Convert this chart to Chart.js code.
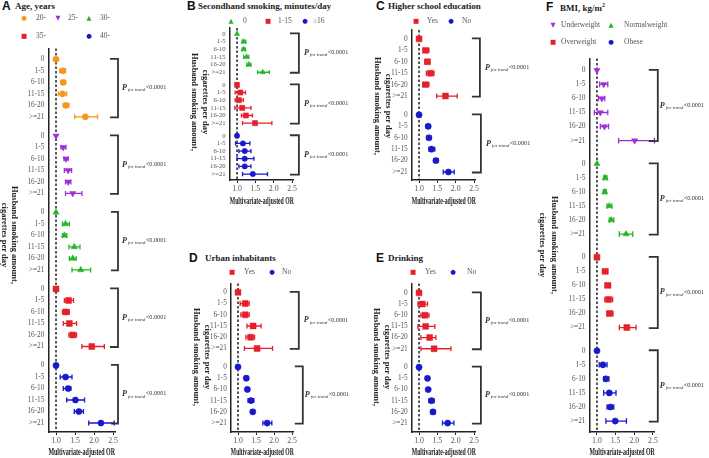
<!DOCTYPE html>
<html lang="en">
<head>
<meta charset="UTF-8">
<title>Husband smoking amount and multivariate-adjusted OR</title>
<style>
  body { margin: 0; width: 709px; height: 458px; background: #fff; position: relative; overflow: hidden;
         font-family: 'Liberation Serif', 'Times New Roman', serif; }
  canvas { position: absolute; }
  .lbl { position: absolute; white-space: nowrap; line-height: 1; z-index: 2; }
  .letter { font-family: 'Liberation Sans', Arial, sans-serif; font-weight: bold; font-size: 12px; color: #111; transform: translateY(-50%); }
  .ttl { font-weight: bold; font-size: 9px; color: #222; transform: translateY(-50%); }
  .leg { font-size: 7.5px; color: #555; transform: translateY(-50%); }
  .mk { font-family: 'DejaVu Sans', sans-serif; font-size: 6.5px; transform: translate(-50%, -50%); }
  .ytl { font-weight: bold; font-size: 8.5px; color: #222; transform: translate(-50%, -50%) rotate(90deg); }
</style>
</head>
<body>
  <canvas id="cA" width="175" height="418" style="left:0;top:40px"></canvas>
  <canvas id="cB" width="179" height="189" style="left:176px;top:18px"></canvas>
  <canvas id="cC" width="174" height="189" style="left:356px;top:18px"></canvas>
  <canvas id="cD" width="179" height="183" style="left:176px;top:275px"></canvas>
  <canvas id="cE" width="174" height="183" style="left:356px;top:275px"></canvas>
  <canvas id="cF" width="178" height="408" style="left:531px;top:50px"></canvas>

  <div class="lbl letter" style="left:2px;top:6px">A</div>
  <div class="lbl ttl" style="left:15px;top:6px">Age, years</div>
  <div class="lbl letter" style="left:187px;top:6px">B</div>
  <div class="lbl ttl" style="left:198px;top:6px">Secondhand smoking, minutes/day</div>
  <div class="lbl letter" style="left:376px;top:6px">C</div>
  <div class="lbl ttl" style="left:388px;top:6px">Higher school education</div>
  <div class="lbl letter" style="left:189px;top:258px">D</div>
  <div class="lbl ttl" style="left:205px;top:258px">Urban inhabitants</div>
  <div class="lbl letter" style="left:376px;top:258px">E</div>
  <div class="lbl ttl" style="left:388px;top:258px">Drinking</div>
  <div class="lbl letter" style="left:546px;top:7px">F</div>
  <div class="lbl ttl" style="left:560px;top:7px">BMI, kg/m<sup style="font-size:6px">2</sup></div>

  <div class="lbl ytl" style="left:15px;top:235px">Husband smoking amount,</div>
  <div class="lbl ytl" style="left:5px;top:235px">cigarettes per day</div>
  <div class="lbl ytl" style="left:195px;top:102px">Husband smoking amount,</div>
  <div class="lbl ytl" style="left:206px;top:102px">cigarettes per day</div>
  <div class="lbl ytl" style="left:378px;top:106px">Husband smoking amount,</div>
  <div class="lbl ytl" style="left:389px;top:106px">cigarettes per day</div>
  <div class="lbl ytl" style="left:197px;top:357px">Husband smoking amount,</div>
  <div class="lbl ytl" style="left:208px;top:357px">cigarettes per day</div>
  <div class="lbl ytl" style="left:377px;top:357px">Husband smoking amount,</div>
  <div class="lbl ytl" style="left:388px;top:357px">cigarettes per day</div>
  <div class="lbl ytl" style="left:555px;top:245px">Husband smoking amount,</div>
  <div class="lbl ytl" style="left:543px;top:245px">cigarettes per day</div>

  <script src="https://cdn.jsdelivr.net/npm/chart.js"></script>
  <script>
    const rowLabels = ['0', '1-5', '6-10', '11-15', '16-20', '>=21'];
    const xTicks = [1.0, 1.5, 2.0, 2.5];

    // A: age, years
    const ageGroups = ['20-', '25-', '30-', '35-', '40-'];
    const ageOR = [
      [1.00, 1.18, 1.19, 1.17, 1.26, 1.77],
      [1.00, 1.19, 1.26, 1.32, 1.32, 1.44],
      [1.00, 1.25, 1.22, 1.48, 1.44, 1.65],
      [1.00, 1.33, 1.26, 1.35, 1.44, 1.94],
      [1.00, 1.25, 1.32, 1.51, 1.60, 2.18]
    ];
    const ageLow = [
      [1.00, 1.10, 1.13, 1.06, 1.19, 1.49],
      [1.00, 1.13, 1.21, 1.22, 1.25, 1.25],
      [1.00, 1.17, 1.17, 1.34, 1.35, 1.42],
      [1.00, 1.22, 1.17, 1.19, 1.34, 1.68],
      [1.00, 1.11, 1.19, 1.28, 1.48, 1.86]
    ];
    const ageHigh = [
      [1.00, 1.25, 1.25, 1.28, 1.34, 2.09],
      [1.00, 1.26, 1.32, 1.41, 1.39, 1.68],
      [1.00, 1.35, 1.28, 1.63, 1.53, 1.91],
      [1.00, 1.46, 1.35, 1.54, 1.54, 2.27],
      [1.00, 1.42, 1.39, 1.75, 1.72, 2.53]
    ];

    // B: secondhand smoking, minutes/day
    const shsGroups = ['0', '1-15', '≥16'];
    const shsOR = [
      [1.00, 1.18, 1.18, 1.26, 1.32, 1.70],
      [1.00, 1.09, 1.05, 1.14, 1.24, 1.49],
      [1.00, 1.16, 1.21, 1.21, 1.21, 1.43]
    ];
    const shsLow = [
      [1.00, 1.14, 1.14, 1.18, 1.27, 1.56],
      [1.00, 0.95, 0.95, 0.94, 1.12, 1.15],
      [1.00, 0.96, 1.05, 1.00, 1.05, 1.15]
    ];
    const shsHigh = [
      [1.00, 1.24, 1.23, 1.32, 1.38, 1.88],
      [1.00, 1.23, 1.17, 1.38, 1.42, 1.95],
      [1.00, 1.35, 1.38, 1.46, 1.38, 1.83]
    ];

    // C: higher school education
    const yesNo = ['Yes', 'No'];
    const eduOR = [
      [1.00, 1.18, 1.23, 1.31, 1.18, 1.72],
      [1.00, 1.25, 1.27, 1.34, 1.46, 1.80]
    ];
    const eduLow = [
      [1.00, 1.11, 1.16, 1.20, 1.10, 1.48],
      [1.00, 1.19, 1.21, 1.27, 1.40, 1.66]
    ];
    const eduHigh = [
      [1.00, 1.27, 1.29, 1.41, 1.27, 2.04],
      [1.00, 1.30, 1.32, 1.43, 1.52, 1.96]
    ];

    // D: urban inhabitants
    const urbanOR = [
      [1.00, 1.20, 1.20, 1.42, 1.35, 1.53],
      [1.00, 1.23, 1.26, 1.36, 1.41, 1.81]
    ];
    const urbanLow = [
      [1.00, 1.06, 1.08, 1.25, 1.22, 1.18],
      [1.00, 1.19, 1.21, 1.28, 1.36, 1.69]
    ];
    const urbanHigh = [
      [1.00, 1.31, 1.31, 1.64, 1.46, 1.96],
      [1.00, 1.28, 1.31, 1.44, 1.46, 1.94]
    ];

    // E: drinking
    const drinkOR = [
      [1.00, 1.09, 1.16, 1.18, 1.29, 1.41],
      [1.00, 1.23, 1.25, 1.34, 1.38, 1.78]
    ];
    const drinkLow = [
      [1.00, 0.97, 1.05, 0.97, 1.05, 1.05],
      [1.00, 1.18, 1.20, 1.27, 1.33, 1.64]
    ];
    const drinkHigh = [
      [1.00, 1.23, 1.27, 1.43, 1.46, 1.87],
      [1.00, 1.27, 1.29, 1.41, 1.44, 1.95]
    ];

    // F: BMI, kg/m2
    const bmiGroups = ['Underweight', 'Normalweight', 'Overweight', 'Obese'];
    const bmiOR = [
      [1.00, 1.18, 1.13, 1.09, 1.20, 2.01],
      [1.00, 1.22, 1.21, 1.33, 1.38, 1.78],
      [1.00, 1.22, 1.29, 1.31, 1.34, 1.80],
      [1.00, 1.16, 1.24, 1.33, 1.36, 1.49]
    ];
    const bmiLow = [
      [1.00, 1.07, 1.04, 0.93, 1.09, 1.58],
      [1.00, 1.18, 1.17, 1.27, 1.33, 1.60],
      [1.00, 1.15, 1.22, 1.21, 1.27, 1.60],
      [1.00, 1.06, 1.18, 1.18, 1.27, 1.24]
    ];
    const bmiHigh = [
      [1.00, 1.29, 1.21, 1.29, 1.31, 2.54],
      [1.00, 1.27, 1.25, 1.40, 1.45, 1.96],
      [1.00, 1.29, 1.36, 1.42, 1.43, 2.05],
      [1.00, 1.27, 1.32, 1.51, 1.45, 1.79]
    ];

    const SERIF = "'Liberation Serif', 'Times New Roman', serif";
    const STEP = 6.65; // distance between the first rows of two groups
    const ORANGE = '#f5961f', PURPLE = '#a02ed6', GREEN = '#25b525', RED = '#e5202a', BLUE = '#1818cc';
    const shapes = {
      circle: { style: 'circle', rot: 0, r: 1 },
      down: { style: 'triangle', rot: 180, r: 1.15 },
      up: { style: 'triangle', rot: 0, r: 1.15 },
      square: { style: 'rect', rot: 0, r: 1.35 }
    };
    const glyphs = { circle: '●', down: '▼', up: '▲', square: '■' };

    const forestPlugin = {
      id: 'forest',
      beforeDatasetsDraw(chart, args, opts) {
        const { ctx, chartArea, scales: { x, y } } = chart;
        const x1 = x.getPixelForValue(1);
        ctx.save();
        ctx.setLineDash([2.5, 2]);
        ctx.lineWidth = 1.4;
        ctx.strokeStyle = '#111';
        ctx.beginPath();
        ctx.moveTo(x1, chartArea.top);
        ctx.lineTo(x1, chartArea.bottom);
        ctx.stroke();
        ctx.setLineDash([]);
        chart.data.datasets.forEach(ds => {
          ctx.strokeStyle = ds.borderColor;
          ctx.lineWidth = 1.3;
          ds.data.forEach((p, i) => {
            const lo = ds.low[i], hi = ds.high[i];
            if (hi - lo < 0.001) return;
            const py = y.getPixelForValue(p.y);
            const a = x.getPixelForValue(lo), b = x.getPixelForValue(hi);
            ctx.beginPath();
            ctx.moveTo(a, py); ctx.lineTo(b, py);
            ctx.moveTo(a, py - opts.cap); ctx.lineTo(a, py + opts.cap);
            ctx.moveTo(b, py - opts.cap); ctx.lineTo(b, py + opts.cap);
            ctx.stroke();
          });
        });
        ctx.restore();
      },
      afterDraw(chart, args, opts) {
        const { ctx, chartArea, scales: { y } } = chart;
        ctx.save();
        opts.brackets.forEach((b, g) => {
          const y0 = y.getPixelForValue(g * STEP) - 0.5;
          const y1 = y.getPixelForValue(g * STEP + 5) + 0.5;
          const l = chartArea.right + b[0], v = chartArea.right + b[1];
          ctx.strokeStyle = '#333';
          ctx.lineWidth = 1.8;
          ctx.beginPath();
          ctx.moveTo(l, y0); ctx.lineTo(v, y0); ctx.lineTo(v, y1); ctx.lineTo(l, y1);
          ctx.stroke();
          const py = (y0 + y1) / 2;
          let px = chartArea.right + b[2];
          ctx.fillStyle = '#333';
          ctx.textBaseline = 'middle';
          ctx.textAlign = 'left';
          ctx.font = "italic bold 8px 'Liberation Serif'";
          ctx.fillText('P', px, py);
          px += ctx.measureText('P').width + 1;
          ctx.font = "italic 5px 'Liberation Serif'";
          ctx.fillText('for trend', px, py + 2);
          px += ctx.measureText('for trend').width + 0.5;
          ctx.font = "6.2px 'Liberation Serif'";
          ctx.fillText('<0.0001', px, py - 0.5);
        });
        ctx.restore();
      }
    };

    function makePanel(cfg) {
      const G = cfg.or.length;
      const yTickPos = [], yTickText = [];
      for (let g = 0; g < G; g++) {
        rowLabels.forEach((t, r) => { yTickPos.push(g * STEP + r); yTickText.push(t); });
      }
      const datasets = cfg.or.map((vals, g) => {
        const sh = shapes[cfg.shapes[g]];
        return {
          label: cfg.names[g],
          data: vals.map((v, r) => ({ x: v, y: g * STEP + r })),
          low: cfg.low[g],
          high: cfg.high[g],
          pointStyle: sh.style,
          rotation: sh.rot,
          pointRadius: cfg.radius * sh.r,
          backgroundColor: cfg.colors[g],
          borderColor: cfg.colors[g],
          borderWidth: 0.5,
          showLine: false
        };
      });
      new Chart(document.getElementById(cfg.id), {
        type: 'scatter',
        data: { datasets },
        options: {
          responsive: false,
          animation: false,
          events: [],
          layout: { padding: { left: 0, top: cfg.padTop, right: cfg.padRight, bottom: 0 } },
          plugins: {
            legend: { display: false },
            tooltip: { enabled: false },
            forest: { cap: cfg.cap, brackets: cfg.brackets }
          },
          scales: {
            x: {
              type: 'linear', min: 0.8, max: 2.55,
              afterBuildTicks: s => { s.ticks = xTicks.map(v => ({ value: v })); },
              afterFit: s => { s.height = cfg.xH; },
              ticks: { callback: v => v.toFixed(1), font: { family: SERIF, size: 7.8 }, color: '#555',
                       padding: 1, maxRotation: 0, autoSkip: false },
              grid: { drawOnChartArea: false, drawTicks: true, tickLength: 3, color: '#222', lineWidth: 1 },
              border: { display: true, color: '#222', width: 1.5 },
              title: { display: true, text: 'Multivariate-adjusted OR', color: '#222', padding: 0,
                       font: { family: SERIF, size: 9.5, weight: 'bold' } }
            },
            y: {
              type: 'linear', reverse: true,
              min: -cfg.yTop, max: (G - 1) * STEP + 5 + cfg.yBot,
              afterBuildTicks: s => { s.ticks = yTickPos.map(v => ({ value: v })); },
              afterFit: s => { s.width = cfg.yW; },
              ticks: { callback: (v, i) => yTickText[i], font: { family: SERIF, size: cfg.tickSize },
                       color: '#555', padding: 4, autoSkip: false },
              grid: { display: false, drawTicks: false },
              border: { display: true, color: '#222', width: 1.5 }
            }
          }
        },
        plugins: [forestPlugin]
      });
    }

    function legendItem(mx, tx, y, shape, color, text) {
      const m = document.createElement('div');
      m.className = 'lbl mk';
      m.style.left = mx + 'px';
      m.style.top = y + 'px';
      m.style.color = color;
      m.textContent = glyphs[shape];
      document.body.appendChild(m);
      const t = document.createElement('div');
      t.className = 'lbl leg';
      t.style.left = tx + 'px';
      t.style.top = y + 'px';
      t.textContent = text;
      document.body.appendChild(t);
    }

    makePanel({
      id: 'cA', or: ageOR, low: ageLow, high: ageHigh, names: ageGroups,
      colors: [ORANGE, PURPLE, GREEN, RED, BLUE], shapes: ['circle', 'down', 'up', 'square', 'circle'],
      radius: 3.1, cap: 2.5, tickSize: 7.3, yW: 48.4, xH: 26, padTop: 5, padRight: 60,
      yTop: 0.95, yBot: 0.78, brackets: [[-5, 3, 7], [-5, 3, 7], [-4, 3, 7], [-5, 3, 7], [-4, 3, 7]]
    });
    makePanel({
      id: 'cB', or: shsOR, low: shsLow, high: shsHigh, names: shsGroups,
      colors: [GREEN, RED, BLUE], shapes: ['up', 'square', 'circle'],
      radius: 2.7, cap: 2.1, tickSize: 6.7, yW: 53.7, xH: 27, padTop: 10, padRight: 61.1,
      yTop: 0.78, yBot: 0.78, brackets: [[-4, 5, 10], [-4, 5, 10], [-4, 5, 10]]
    });
    makePanel({
      id: 'cC', or: eduOR, low: eduLow, high: eduHigh, names: yesNo,
      colors: [RED, BLUE], shapes: ['square', 'circle'],
      radius: 3.1, cap: 2.5, tickSize: 7.3, yW: 55.7, xH: 27, padTop: 12, padRight: 54.1,
      yTop: 0.78, yBot: 0.7, brackets: [[-4, 4, 9], [-4, 5, 10]]
    });
    makePanel({
      id: 'cD', or: urbanOR, low: urbanLow, high: urbanHigh, names: yesNo,
      colors: [RED, BLUE], shapes: ['square', 'circle'],
      radius: 3.1, cap: 2.5, tickSize: 7.3, yW: 54.8, xH: 26, padTop: 7, padRight: 61.2,
      yTop: 0.8, yBot: 0.8, brackets: [[-4, 5, 10], [1, 9, 11]]
    });
    makePanel({
      id: 'cE', or: drinkOR, low: drinkLow, high: drinkHigh, names: yesNo,
      colors: [RED, BLUE], shapes: ['square', 'circle'],
      radius: 3.1, cap: 2.5, tickSize: 7.3, yW: 55.7, xH: 26, padTop: 6, padRight: 54.1,
      yTop: 0.85, yBot: 0.8, brackets: [[-4, 5, 9], [-4, 5, 9]]
    });
    makePanel({
      id: 'cF', or: bmiOR, low: bmiLow, high: bmiHigh, names: bmiGroups,
      colors: [PURPLE, GREEN, RED, BLUE], shapes: ['down', 'up', 'square', 'circle'],
      radius: 3.1, cap: 2.8, tickSize: 7.3, yW: 58.5, xH: 26, padTop: 7, padRight: 54.2,
      yTop: 0.85, yBot: 0.78, brackets: [[-6, 3, 5], [-6, 3, 5], [-6, 3, 5], [-6, 3, 5]]
    });

    // legends
    legendItem(24, 36, 18, 'circle', ORANGE, ageGroups[0]);
    legendItem(58, 68, 18, 'down', PURPLE, ageGroups[1]);
    legendItem(89, 100, 18, 'up', GREEN, ageGroups[2]);
    legendItem(24, 36, 36, 'square', RED, ageGroups[3]);
    legendItem(89, 100, 36, 'circle', BLUE, ageGroups[4]);

    legendItem(231, 243, 21, 'up', GREEN, shsGroups[0]);
    legendItem(268, 278, 21, 'square', RED, shsGroups[1]);
    legendItem(305, 313, 21, 'circle', BLUE, shsGroups[2]);

    legendItem(416, 427, 21, 'square', RED, yesNo[0]);
    legendItem(451, 462, 21, 'circle', BLUE, yesNo[1]);

    legendItem(232, 244, 272, 'square', RED, yesNo[0]);
    legendItem(272, 282, 272, 'circle', BLUE, yesNo[1]);

    legendItem(413, 425, 272, 'square', RED, yesNo[0]);
    legendItem(453, 467, 272, 'circle', BLUE, yesNo[1]);

    legendItem(553, 561, 25, 'down', PURPLE, bmiGroups[0]);
    legendItem(611, 624, 25, 'up', GREEN, bmiGroups[1]);
    legendItem(553, 561, 42, 'square', RED, bmiGroups[2]);
    legendItem(611, 624, 42, 'circle', BLUE, bmiGroups[3]);
  </script>
</body>
</html>
